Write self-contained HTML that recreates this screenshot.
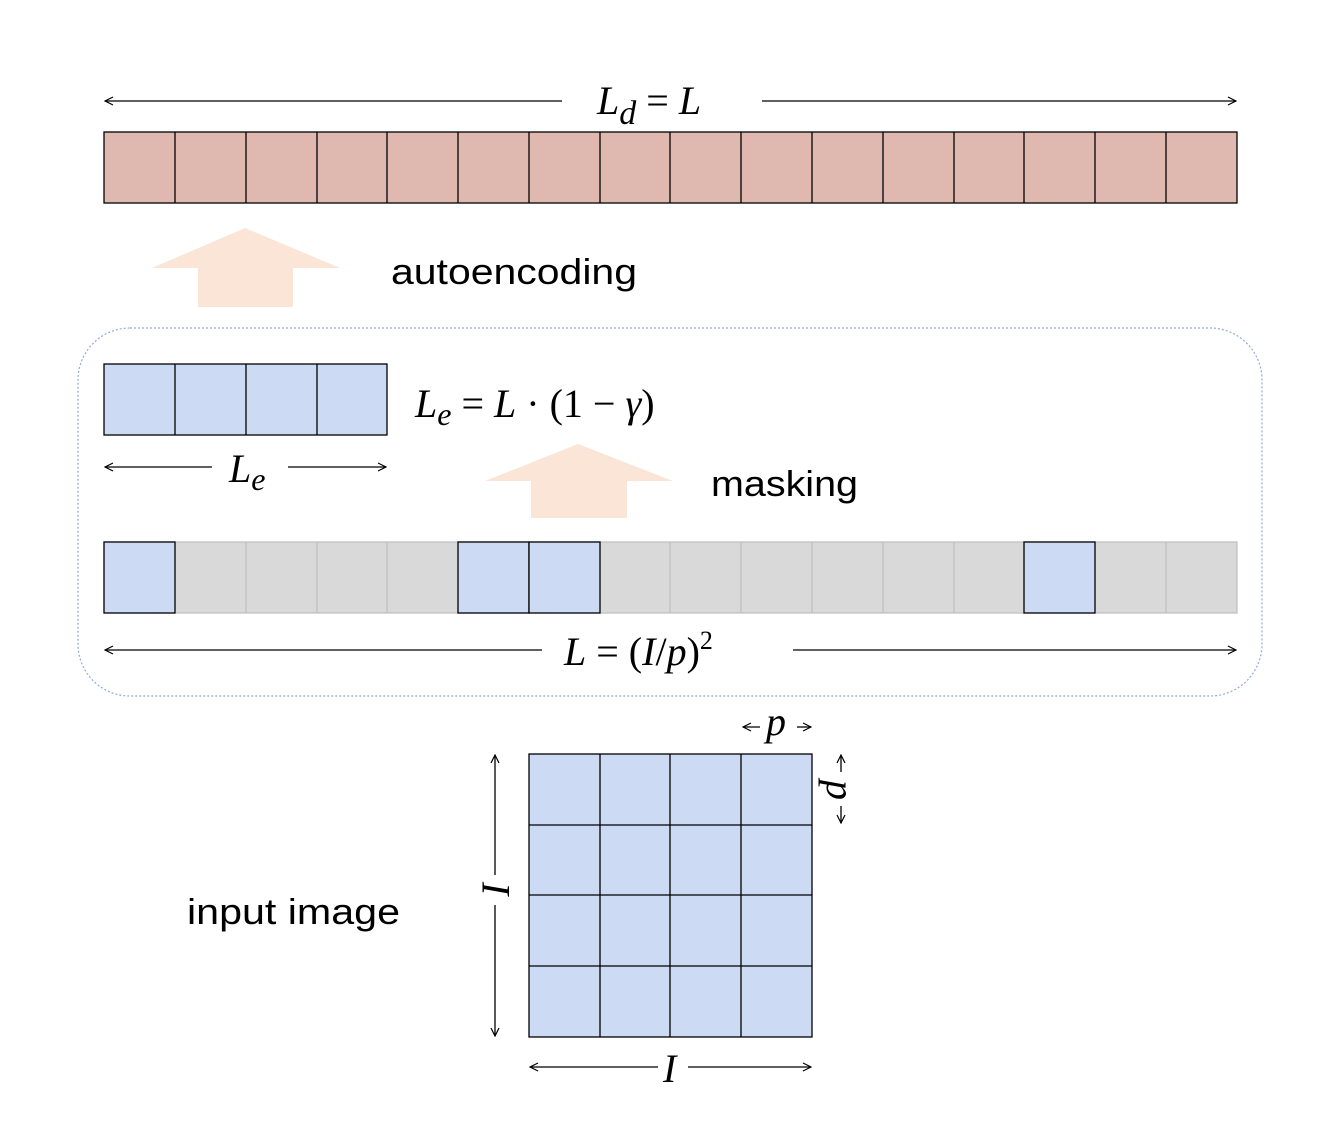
<!DOCTYPE html>
<html><head><meta charset="utf-8"><style>html,body{margin:0;padding:0;background:#fff}svg{display:block}</style></head><body>
<svg width="1328" height="1132" viewBox="0 0 1328 1132" xmlns="http://www.w3.org/2000/svg">
<defs>
<marker id="a" viewBox="0 0 10 10" refX="9" refY="5" markerWidth="10" markerHeight="10" markerUnits="userSpaceOnUse" orient="auto-start-reverse"><path d="M1,1 L9,5 L1,9" fill="none" stroke="#000" stroke-width="1.2"/></marker>
</defs>
<g stroke="#000" stroke-width="1.3" fill="none">
<line x1="105" y1="101" x2="562" y2="101" marker-start="url(#a)"/>
<line x1="762" y1="101" x2="1236" y2="101" marker-end="url(#a)"/>
<line x1="105" y1="467" x2="212" y2="467" marker-start="url(#a)"/>
<line x1="288" y1="467" x2="386" y2="467" marker-end="url(#a)"/>
<line x1="105" y1="650" x2="542" y2="650" marker-start="url(#a)"/>
<line x1="793" y1="650" x2="1236" y2="650" marker-end="url(#a)"/>
<line x1="743" y1="727" x2="760" y2="727" marker-start="url(#a)"/>
<line x1="797" y1="727" x2="811" y2="727" marker-end="url(#a)"/>
<line x1="841" y1="755" x2="841" y2="772" marker-start="url(#a)"/>
<line x1="841" y1="806" x2="841" y2="823" marker-end="url(#a)"/>
<line x1="495" y1="755" x2="495" y2="875" marker-start="url(#a)"/>
<line x1="495" y1="905" x2="495" y2="1036" marker-end="url(#a)"/>
<line x1="530" y1="1067" x2="658" y2="1067" marker-start="url(#a)"/>
<line x1="688" y1="1067" x2="811" y2="1067" marker-end="url(#a)"/>
</g>
<rect x="78" y="328" width="1184" height="368" rx="52" fill="none" stroke="#8faadc" stroke-width="1.2" stroke-dasharray="2,2"/>
<g stroke="#000" stroke-width="1.3">
<rect x="104" y="132" width="1133" height="71" fill="#dfb9b0"/>
<path d="M175,132V203M246,132V203M317,132V203M387,132V203M458,132V203M529,132V203M600,132V203M670,132V203M741,132V203M812,132V203M883,132V203M954,132V203M1024,132V203M1095,132V203M1166,132V203"/>
<rect x="104" y="364" width="283" height="71" fill="#cddaf3"/>
<path d="M175,364V435M246,364V435M317,364V435"/>
</g>
<g stroke="#bfbfbf" stroke-width="1.2">
<rect x="104" y="542" width="1133" height="71" fill="#d9d9d9"/>
<path d="M246,542V613M317,542V613M387,542V613M670,542V613M741,542V613M812,542V613M883,542V613M954,542V613M1166,542V613"/>
</g>
<g stroke="#000" stroke-width="1.3" fill="#cddaf3">
<rect x="104" y="542" width="71" height="71"/>
<rect x="458" y="542" width="71" height="71"/>
<rect x="529" y="542" width="71" height="71"/>
<rect x="1024" y="542" width="71" height="71"/>
<rect x="529" y="754" width="283" height="283"/>
<path d="M600,754V1037M670,754V1037M741,754V1037M529,825H812M529,895H812M529,966H812" fill="none"/>
</g>
<path d="M245,228 L340,268 L293,268 L293,307 L198,307 L198,268 L152,268Z" fill="#fbe5d6"/>
<path d="M578,444 L673,481 L627,481 L627,518 L531,518 L531,481 L485,481Z" fill="#fbe5d6"/>
<g font-family="Liberation Sans, sans-serif" font-size="36" fill="#000">
<text x="391" y="284" textLength="246" lengthAdjust="spacingAndGlyphs">autoencoding</text>
<text x="711" y="496" textLength="147" lengthAdjust="spacingAndGlyphs">masking</text>
<text x="187" y="924" textLength="213" lengthAdjust="spacingAndGlyphs">input image</text>
</g>
<g font-family="Liberation Serif, serif" font-size="40" fill="#000">
<text x="597" y="114"><tspan font-style="italic">L</tspan><tspan font-style="italic" font-size="34" dy="10">d</tspan><tspan dy="-10"> = </tspan><tspan font-style="italic">L</tspan></text>
<text x="415" y="417"><tspan font-style="italic">L</tspan><tspan font-style="italic" font-size="32" dy="8">e</tspan><tspan dy="-8"> = </tspan><tspan font-style="italic">L</tspan> · (1 − <tspan font-style="italic">γ</tspan>)</text>
<text x="229" y="482"><tspan font-style="italic">L</tspan><tspan font-style="italic" font-size="32" dy="8">e</tspan></text>
<text x="564" y="665"><tspan font-style="italic">L</tspan> = (<tspan font-style="italic">I</tspan>/<tspan font-style="italic">p</tspan>)<tspan font-size="26" dy="-16">2</tspan></text>
<text x="766" y="735" font-style="italic">p</text>
<text x="663" y="1082" font-style="italic">I</text>
<text transform="translate(827,790) rotate(90)" font-style="italic" text-anchor="middle">p</text>
<text transform="translate(509,890) rotate(-90)" font-style="italic" text-anchor="middle">I</text>
</g>
</svg>
</body></html>
